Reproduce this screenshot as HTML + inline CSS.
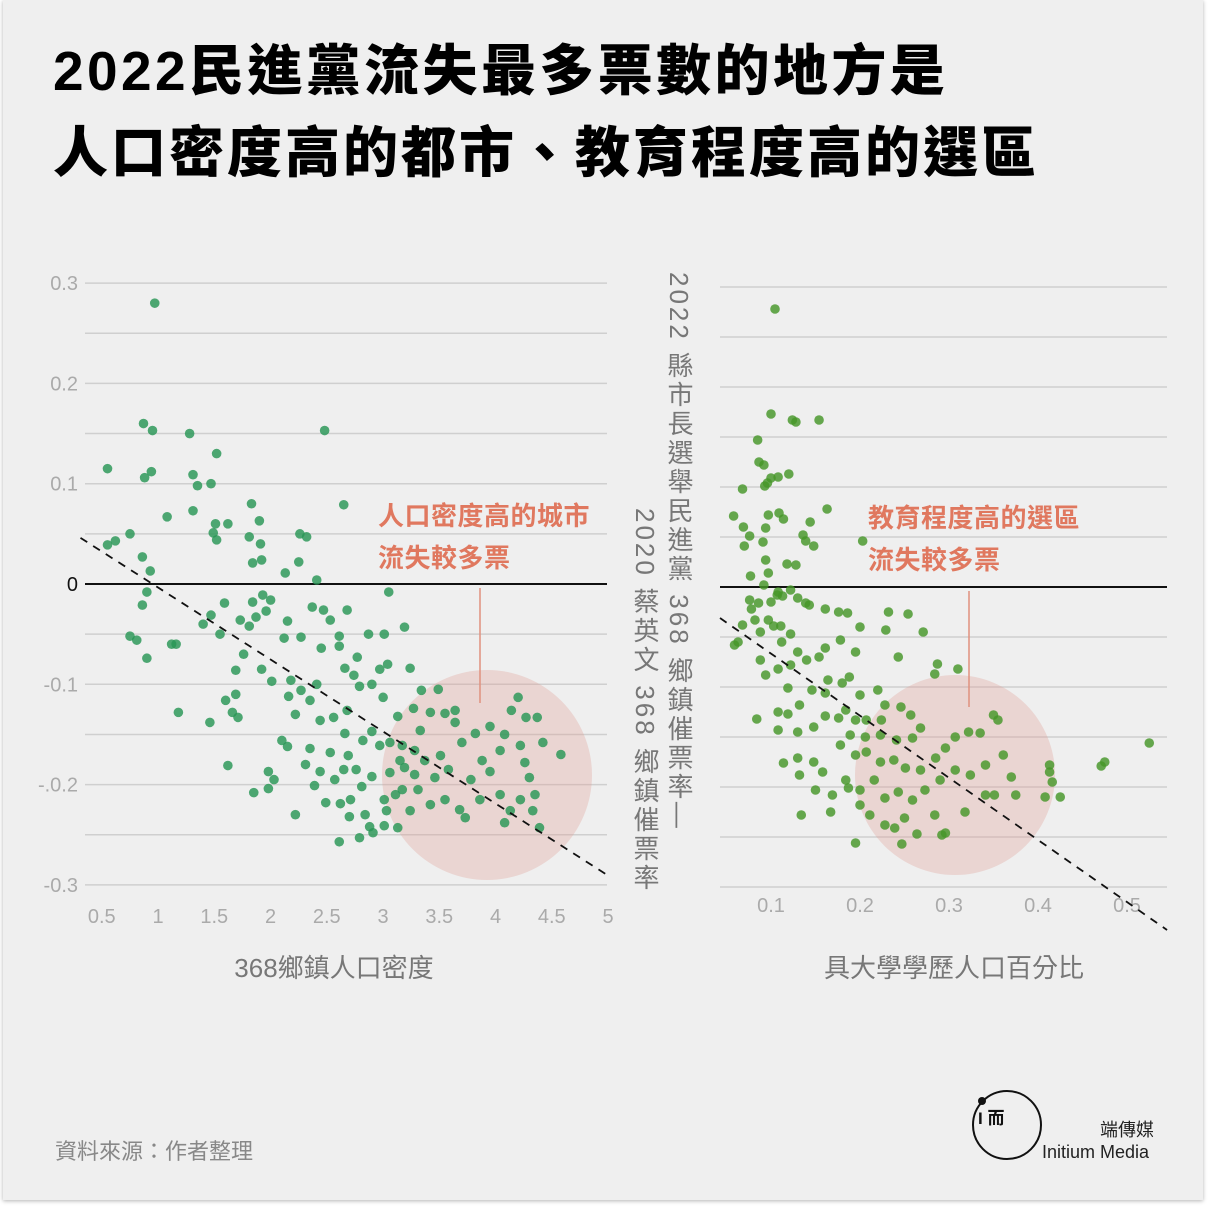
<!DOCTYPE html>
<html><head><meta charset="utf-8">
<style>
html,body{margin:0;padding:0;background:#fff;}
#card{position:absolute;left:3px;top:0;width:1200px;height:1200px;background:#efefef;box-shadow:0 1px 4px rgba(0,0,0,.3);font-family:"Liberation Sans","Noto Sans CJK TC",sans-serif;}
.t{position:absolute;white-space:nowrap;}
.v{position:absolute;writing-mode:vertical-rl;text-orientation:mixed;font-size:26px;color:#777;letter-spacing:3px;white-space:nowrap;line-height:26px;z-index:2;font-family:"Liberation Sans","Noto Sans CJK TC",sans-serif;}
</style></head><body>
<div id="card">
<div class="t" style="left:50px;top:26px;font-size:55px;font-weight:900;color:#000;letter-spacing:3.4px;">2022民進黨流失最多票數的地方是</div>
<div class="t" style="left:50px;top:108px;font-size:55px;font-weight:900;color:#000;letter-spacing:3px;">人口密度高的都市、教育程度高的選區</div>
<div class="t" style="left:52px;top:1134px;font-size:22px;color:#888;">資料來源：作者整理</div>
<div class="t" style="left:1097px;top:1116px;font-size:18px;color:#222;">端傳媒</div>
<div class="t" style="left:1039px;top:1142px;font-size:18px;color:#222;">Initium Media</div>
</div>
<div class="v" style="left:666px;top:272px;">2022 縣市長選舉民進黨 368 鄉鎮催票率—</div>
<div class="v" style="left:632px;top:508px;">2020 蔡英文 368 鄉鎮催票率</div>
<svg id="chart" width="1208" height="1208" style="position:absolute;left:0;top:0;font-family:'Liberation Sans','Noto Sans CJK TC',sans-serif;"></svg>
<script>
// Left chart data: population density vs swing
const leftX=[0.98,0.88,0.96,1.29,1.53,2.49,0.56,0.95,0.89,1.32,1.36,1.48,2.66,1.84,1.91,1.09,1.32,0.76,0.63,0.56,0.87,0.94,0.91,0.87,1.52,1.63,1.50,1.53,1.82,1.85,1.92,1.93,2.27,2.33,2.26,2.14,2.42,0.76,0.82,0.91,1.13,1.17,1.19,1.6,1.48,1.41,1.56,1.74,1.70,1.67,1.47,1.61,1.72,1.70,1.63,1.85,1.94,2.01,1.97,1.88,1.82,1.77,1.93,2.02,2.16,2.13,2.28,2.38,2.48,2.69,2.54,2.62,2.46,2.19,2.28,2.17,2.36,2.42,2.23,2.45,2.16,1.99,2.23,2.04,3.06,3.2,3.02,2.88,2.62,2.78,2.67,2.75,2.98,3.05,3.25,3.5,2.8,2.91,3.01,2.69,2.57,2.67,2.91,3.14,3.28,3.43,3.56,3.65,2.36,2.54,2.7,2.83,2.98,3.07,3.18,3.34,2.32,2.45,2.58,2.66,2.77,2.82,2.91,3.07,3.2,1.86,2.11,1.99,2.5,2.63,2.72,2.4,2.71,2.85,2.89,2.8,2.92,3.02,2.62,3.14,3.04,3.18,3.32,3.35,3.65,3.71,3.83,3.96,4.09,4.21,4.15,4.28,4.38,3.89,4.05,4.23,4.27,4.43,4.59,3.52,3.38,3.59,3.79,3.96,4.31,4.36,4.23,4.05,3.87,3.69,3.74,3.56,3.43,4.14,4.34,4.4,4.09,3.47,3.29,3.25,3.12,3.16,3.29,3.02];
const leftY=[0.28,0.16,0.153,0.15,0.13,0.153,0.115,0.112,0.106,0.109,0.098,0.1,0.079,0.08,0.063,0.067,0.073,0.05,0.043,0.039,0.027,0.013,-0.008,-0.021,0.06,0.06,0.051,0.044,0.047,0.021,0.04,0.024,0.05,0.047,0.022,0.011,0.004,-0.052,-0.056,-0.074,-0.06,-0.06,-0.128,-0.019,-0.031,-0.04,-0.05,-0.036,-0.086,-0.128,-0.138,-0.116,-0.133,-0.11,-0.181,-0.018,-0.011,-0.016,-0.027,-0.033,-0.042,-0.07,-0.085,-0.097,-0.037,-0.054,-0.053,-0.023,-0.026,-0.026,-0.036,-0.052,-0.064,-0.096,-0.106,-0.112,-0.116,-0.1,-0.13,-0.136,-0.162,-0.187,-0.23,-0.195,-0.008,-0.043,-0.05,-0.05,-0.062,-0.073,-0.084,-0.091,-0.085,-0.08,-0.084,-0.105,-0.102,-0.1,-0.113,-0.126,-0.133,-0.149,-0.147,-0.132,-0.124,-0.128,-0.129,-0.126,-0.164,-0.168,-0.171,-0.156,-0.161,-0.158,-0.161,-0.146,-0.18,-0.187,-0.195,-0.185,-0.185,-0.202,-0.192,-0.188,-0.183,-0.208,-0.156,-0.204,-0.218,-0.219,-0.215,-0.201,-0.232,-0.23,-0.242,-0.253,-0.248,-0.241,-0.257,-0.243,-0.226,-0.205,-0.205,-0.106,-0.138,-0.158,-0.149,-0.142,-0.15,-0.113,-0.126,-0.133,-0.133,-0.176,-0.166,-0.161,-0.178,-0.158,-0.17,-0.171,-0.176,-0.185,-0.195,-0.187,-0.193,-0.21,-0.215,-0.21,-0.215,-0.225,-0.233,-0.215,-0.22,-0.226,-0.226,-0.243,-0.238,-0.193,-0.19,-0.226,-0.21,-0.176,-0.166,-0.215];
const leftXTicks=["0.5","1","1.5","2","2.5","3","3.5","4","4.5","5"];
const leftYTicks=["0.3","0.2","0.1","0","-0.1","-.0.2","-0.3"];
const leftTrend=[[0.32,0.046],[5,-0.29]];
// Right chart data: college education share vs swing
const rightX=[0.1045,0.1,0.124,0.128,0.154,0.085,0.12,0.108,0.1,0.0865,0.092,0.093,0.068,0.096,0.163,0.058,0.069,0.076,0.091,0.094,0.07,0.097,0.109,0.114,0.144,0.136,0.139,0.148,0.203,0.094,0.097,0.092,0.107,0.1,0.113,0.118,0.077,0.086,0.128,0.068,0.082,0.088,0.103,0.108,0.122,0.13,0.139,0.059,0.063,0.076,0.078,0.097,0.111,0.122,0.112,0.088,0.094,0.108,0.122,0.13,0.14,0.154,0.161,0.178,0.195,0.143,0.161,0.176,0.186,0.2,0.232,0.254,0.229,0.271,0.243,0.287,0.31,0.284,0.119,0.108,0.119,0.132,0.146,0.161,0.164,0.18,0.188,0.2,0.22,0.228,0.207,0.084,0.108,0.13,0.148,0.161,0.176,0.184,0.195,0.114,0.13,0.148,0.132,0.158,0.15,0.167,0.134,0.169,0.184,0.178,0.189,0.206,0.223,0.241,0.259,0.268,0.257,0.246,0.224,0.195,0.207,0.223,0.238,0.251,0.268,0.285,0.296,0.307,0.322,0.335,0.35,0.355,0.187,0.2,0.216,0.228,0.243,0.259,0.273,0.29,0.307,0.324,0.341,0.361,0.2,0.211,0.228,0.239,0.25,0.264,0.284,0.296,0.318,0.341,0.351,0.375,0.37,0.408,0.425,0.413,0.416,0.413,0.471,0.475,0.525,0.195,0.292,0.247];
const rightY=[0.278,0.173,0.167,0.165,0.167,0.147,0.113,0.11,0.109,0.125,0.122,0.101,0.098,0.104,0.078,0.071,0.06,0.051,0.045,0.059,0.041,0.072,0.074,0.068,0.065,0.052,0.046,0.041,0.046,0.027,0.014,0.002,-0.008,-0.015,-0.009,0.023,0.011,-0.016,0.022,-0.038,-0.033,-0.045,-0.039,-0.005,-0.003,-0.011,-0.016,-0.058,-0.055,-0.013,-0.022,-0.033,-0.039,-0.047,-0.055,-0.073,-0.088,-0.082,-0.078,-0.065,-0.073,-0.07,-0.061,-0.053,-0.065,-0.018,-0.022,-0.025,-0.026,-0.04,-0.025,-0.027,-0.043,-0.045,-0.07,-0.077,-0.082,-0.087,-0.101,-0.125,-0.127,-0.118,-0.103,-0.106,-0.093,-0.096,-0.09,-0.108,-0.103,-0.118,-0.133,-0.132,-0.143,-0.145,-0.14,-0.129,-0.131,-0.123,-0.133,-0.176,-0.171,-0.175,-0.188,-0.185,-0.203,-0.225,-0.228,-0.208,-0.193,-0.158,-0.148,-0.15,-0.148,-0.153,-0.151,-0.141,-0.128,-0.12,-0.133,-0.168,-0.165,-0.175,-0.173,-0.181,-0.183,-0.171,-0.161,-0.15,-0.145,-0.146,-0.128,-0.133,-0.201,-0.203,-0.193,-0.211,-0.205,-0.213,-0.203,-0.193,-0.183,-0.188,-0.178,-0.168,-0.218,-0.228,-0.238,-0.241,-0.231,-0.247,-0.228,-0.246,-0.225,-0.208,-0.208,-0.208,-0.19,-0.21,-0.21,-0.178,-0.195,-0.185,-0.179,-0.175,-0.156,-0.256,-0.248,-0.257];
const rightXTicks=["0.1","0.2","0.3","0.4","0.5"];
const rightTrend=[[0.0427,-0.031],[0.545,-0.343]];

const svg=document.getElementById('chart');
const NS='http://www.w3.org/2000/svg';
function mk(tag,attrs,parent){const e=document.createElementNS(NS,tag);for(const k in attrs)e.setAttribute(k,attrs[k]);(parent||svg).appendChild(e);return e;}
const lx=v=>157+(v-1)*112.5, ly=v=>584-v*1003;
const rx=v=>771+(v-0.1)*890, ry=v=>587-v*1000;

for(let i=0;i<=12;i++){const v=0.3-i*0.05;const g=mk('line',{x1:85,x2:607,y1:ly(v),y2:ly(v),stroke:Math.abs(v)<1e-9?'#111':'#cfcfcf','stroke-width':Math.abs(v)<1e-9?2:1.5});

}
leftYTicks.forEach((s,i)=>{const v=0.3-i*0.1;const t=mk('text',{x:78,y:ly(v)+7,'text-anchor':'end','font-size':20,fill:s==='0'?'#111':'#aaa'});t.textContent=s;

});
leftXTicks.forEach(s=>{const t=mk('text',{x:lx(parseFloat(s))+1,y:923,'text-anchor':'middle','font-size':20,fill:'#aaa'});t.textContent=s;

});
for(let i=0;i<=12;i++){const v=0.3-i*0.05;const g=mk('line',{x1:720,x2:1167,y1:ry(v),y2:ry(v),stroke:Math.abs(v)<1e-9?'#111':'#cfcfcf','stroke-width':Math.abs(v)<1e-9?2:1.5});

}
rightXTicks.forEach(s=>{const t=mk('text',{x:rx(parseFloat(s)),y:912,'text-anchor':'middle','font-size':20,fill:'#aaa'});t.textContent=s;

});

let c=mk('circle',{cx:487,cy:775,r:105,fill:'rgba(225,160,150,0.32)'});


c=mk('circle',{cx:955,cy:775,r:100,fill:'rgba(225,160,150,0.32)'});



leftX.forEach((v,i)=>{const p=mk('circle',{cx:lx(v),cy:ly(leftY[i]),r:4.8,fill:'rgba(40,150,85,0.82)'});

});
rightX.forEach((v,i)=>{const p=mk('circle',{cx:rx(v),cy:ry(rightY[i]),r:4.8,fill:'rgba(70,150,40,0.82)'});

});

let tl=mk('line',{x1:lx(leftTrend[0][0]),y1:ly(leftTrend[0][1]),x2:lx(leftTrend[1][0]),y2:ly(leftTrend[1][1]),stroke:'#111','stroke-width':1.8,'stroke-dasharray':'8,7'});


tl=mk('line',{x1:rx(rightTrend[0][0]),y1:ry(rightTrend[0][1]),x2:rx(rightTrend[1][0]),y2:ry(rightTrend[1][1]),stroke:'#111','stroke-width':1.8,'stroke-dasharray':'8,7'});



let al=mk('line',{x1:480,x2:480,y1:588,y2:703,stroke:'#e0907e','stroke-width':1.5});


al=mk('line',{x1:969,x2:969,y1:591,y2:707,stroke:'#e0907e','stroke-width':1.5});


const ann=[[378,525,'人口密度高的城市','left-annotation-1'],[378,567,'流失較多票','left-annotation-2'],[868,527,'教育程度高的選區','right-annotation-1'],[868,569,'流失較多票','right-annotation-2']];
ann.forEach(a=>{const t=mk('text',{x:a[0],y:a[1],'font-size':26,'font-weight':'bold',fill:'#e0785f','letter-spacing':0.5});t.textContent=a[2];

});

let at=mk('text',{x:334,y:977,'text-anchor':'middle','font-size':26,fill:'#777'});at.textContent='368鄉鎮人口密度';


at=mk('text',{x:954,y:977,'text-anchor':'middle','font-size':26,fill:'#777'});at.textContent='具大學學歷人口百分比';



let lg=mk('circle',{cx:1007,cy:1125,r:34,fill:'none',stroke:'#111','stroke-width':2});


lg=mk('circle',{cx:982,cy:1101,r:4,fill:'#111'});


lg=mk('text',{x:978,y:1124,'font-size':17,fill:'#111','font-weight':'bold'});lg.textContent='I 而';


</script>
</body></html>
